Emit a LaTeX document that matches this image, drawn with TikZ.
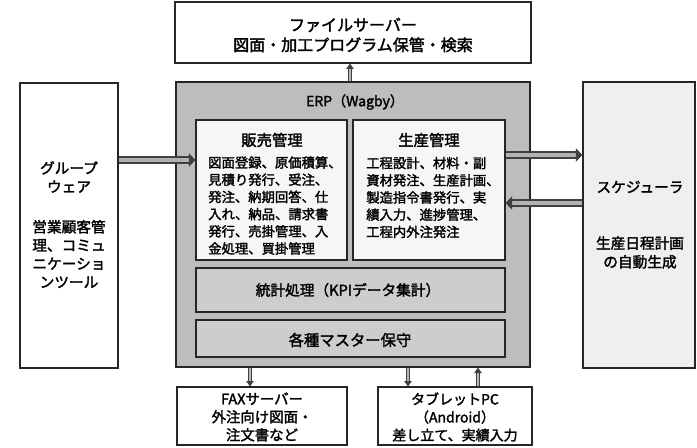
\documentclass[tikz,border=0pt]{standalone}
\usepackage{fontspec}
\setmainfont{Noto Sans CJK JP}[FakeBold=2]
\usetikzlibrary{arrows.meta}
\definecolor{erpgray}{HTML}{BDBDBD}
\definecolor{subgray}{HTML}{CDCDCD}
\definecolor{paper}{HTML}{F6F6F6}
\definecolor{schedfill}{HTML}{EFEFEF}
\definecolor{edge}{HTML}{262626}
\begin{document}
\begin{tikzpicture}[x=0.75pt,y=-0.75pt,
  box/.style={draw=edge, line width=0.8pt, inner sep=0pt, fill=white},
  lbl/.style={inner sep=0pt, align=center},
  fat/.style={draw=black!75, double=gray!60, double distance=3.6pt, line width=0.9pt,
    -{Triangle[length=5pt,width=10pt]}},
  slim/.style={draw=black!75, double=gray!55, double distance=1.4pt, line width=0.6pt,
    -{Triangle[length=4pt,width=5.5pt]}}]
\useasboundingbox (0,0) rectangle (697,447);
% boxes
\node[box, minimum width=267pt, minimum height=45.75pt] (top) at (353,32.5) {};
\node[box, fill=erpgray, line width=1pt, minimum width=265.5pt, minimum height=213.75pt] (erp) at (353,224.5) {};
\node[box, minimum width=73.5pt, minimum height=213.75pt] (grp) at (69,225.5) {};
\node[box, fill=schedfill, minimum width=84pt, minimum height=214.5pt] (sched) at (639,225) {};
\node[box, fill=paper, minimum width=113.25pt, minimum height=105pt] (sales) at (271.5,190) {};
\node[box, fill=paper, minimum width=114pt, minimum height=105pt] (prod) at (429,190) {};
\node[box, fill=subgray, minimum width=231.75pt, minimum height=33pt] (stats) at (350.5,290) {};
\node[box, fill=subgray, minimum width=231.75pt, minimum height=27.75pt] (master) at (350.5,338.5) {};
\node[box, minimum width=127.5pt, minimum height=43.5pt] (fax) at (262,416) {};
\node[box, minimum width=115.5pt, minimum height=43.5pt] (tab) at (455,416) {};
% texts
\node[lbl, font=\fontsize{12}{15}\selectfont] (toptxt) at (353,35) {ファイルサーバー\\図面・加工プログラム保管・検索};
\node[lbl, font=\fontsize{10.5}{13}\selectfont] (erptxt) at (355,102) {ERP（Wagby）};
\node[lbl, font=\fontsize{11.5}{14}\selectfont] (salest) at (272,140) {販売管理};
\node[lbl, font=\fontsize{11.5}{14}\selectfont] (prodt) at (429,140) {生産管理};
\node[lbl, align=left, anchor=west, font=\fontsize{10}{12.9}\selectfont] (salestxt) at (208,205.5)
  {図面登録、原価積算、\\見積り発行、受注、\\発注、納期回答、仕\\入れ、納品、請求書\\発行、売掛管理、入\\金処理、買掛管理};
\node[lbl, align=left, anchor=west, font=\fontsize{10}{12.9}\selectfont] (prodtxt) at (366,197.5)
  {工程設計、材料・副\\資材発注、生産計画、\\製造指令書発行、実\\績入力、進捗管理、\\工程内外注発注};
\node[lbl, font=\fontsize{11}{14}\selectfont] (statstxt) at (348,290) {統計処理（KPIデータ集計）};
\node[lbl, font=\fontsize{11.5}{14}\selectfont] (mastertxt) at (350,340) {各種マスター保守};
\node[lbl, font=\fontsize{11}{14}\selectfont] (grpt) at (69,177) {グループ\\ウェア};
\node[lbl, font=\fontsize{11}{13.8}\selectfont] (grptxt) at (69,254) {営業顧客管\\理、コミュ\\ニケーショ\\ンツール};
\node[lbl, font=\fontsize{11}{14}\selectfont] (schedt) at (640,187) {スケジューラ};
\node[lbl, font=\fontsize{11}{14}\selectfont] (schedtxt) at (640,252.5) {生産日程計画\\の自動生成};
\node[lbl, font=\fontsize{10.8}{13.5}\selectfont] (faxtxt) at (262,417) {FAXサーバー\\外注向け図面・\\注文書など};
\node[lbl, font=\fontsize{10.5}{13.5}\selectfont] (tabtxt) at (455,417) {タブレットPC\\（Android）\\差し立て、実績入力};
% connectors
\coordinate (t1) at (350,0);
\draw[slim] (erp.north -| t1) -- (top.south -| t1);
\coordinate (g1) at (0,160);
\draw[fat] (grp.east |- g1) -- (sales.west |- g1);
\coordinate (s1) at (0,155);
\coordinate (s2) at (0,203);
\draw[fat] (prod.east |- s1) -- (sched.west |- s1);
\draw[fat] (sched.west |- s2) -- (prod.east |- s2);
\coordinate (b1) at (250,0);
\coordinate (b2) at (408,0);
\coordinate (b3) at (478,0);
\draw[slim] (erp.south -| b1) -- (fax.north -| b1);
\draw[slim] (erp.south -| b2) -- (tab.north -| b2);
\draw[slim] (tab.north -| b3) -- (erp.south -| b3);
\end{tikzpicture}
\end{document}
